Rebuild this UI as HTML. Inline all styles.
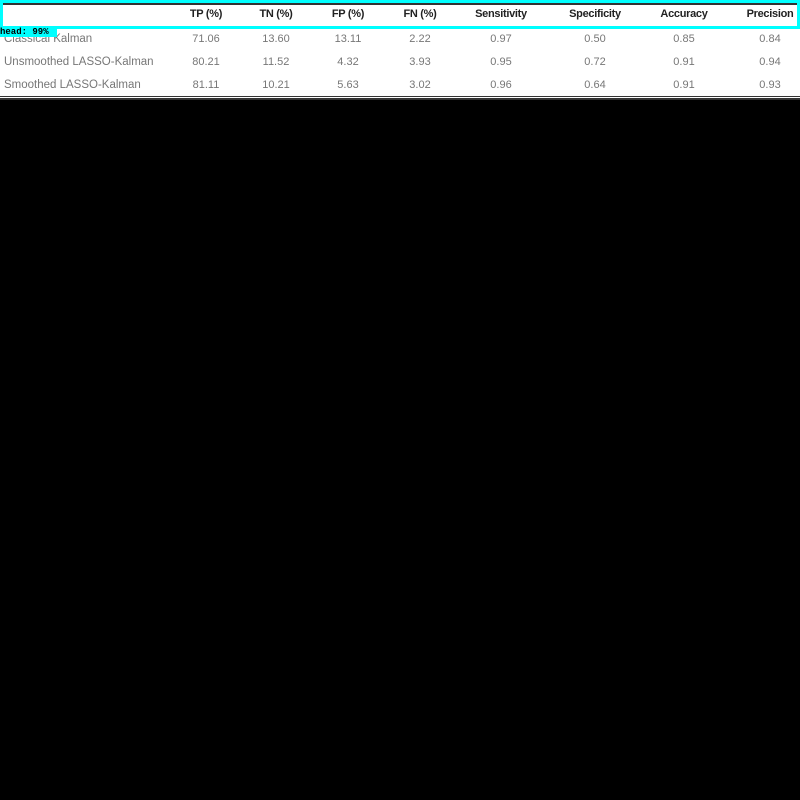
<!DOCTYPE html>
<html><head><meta charset="utf-8"><style>
body{margin:0;width:800px;height:800px;background:#000;position:relative;overflow:hidden;font-family:"Liberation Sans",sans-serif}
#tbl{position:absolute;left:0;top:0;width:800px;height:100px;background:#fff}
.c{position:absolute;font-size:11px;white-space:nowrap;transform:translate(-50%,-50%);color:#777}
.h{color:#222;font-weight:bold;letter-spacing:-0.3px}
.l{transform:translate(0,-50%);font-size:11.5px}
</style></head><body>
<div id="tbl">
<div style="position:absolute;left:0;top:3px;width:800px;height:2px;background:#333"></div>
<div style="position:absolute;left:0;top:96px;width:800px;height:1px;background:#333"></div>
<div style="position:absolute;left:0;top:98px;width:800px;height:2px;background:#333"></div>
</div>
<div id="cells"></div>
<div style="position:absolute;left:0;top:0;width:794px;height:23px;border:3px solid #00ffff"></div>
<div style="position:absolute;left:0;top:27px;width:57px;height:10px;background:#00ffff;font:bold 9px 'Liberation Mono',monospace;color:#000;line-height:10px">head: 99%</div>
<script>
const headers=["TP (%)","TN (%)","FP (%)","FN (%)","Sensitivity","Specificity","Accuracy","Precision"];
const rowsLabels=["Classical Kalman","Unsmoothed LASSO-Kalman","Smoothed LASSO-Kalman"];
const row1=["71.06","13.60","13.11","2.22","0.97","0.50","0.85","0.84"];
const row2=["80.21","11.52","4.32","3.93","0.95","0.72","0.91","0.94"];
const row3=["81.11","10.21","5.63","3.02","0.96","0.64","0.91","0.93"];
const xs=[206,276,348,420,501,595,684,770];
const ys=[14,39,62,85];
const root=document.getElementById('cells');
function add(txt,x,y,cls,name){
  const d=document.createElement('div');
  d.className='c '+cls;d.textContent=txt;
  d.style.left=x+'px';d.style.top=y+'px';
  
  
  root.appendChild(d);
}
headers.forEach((h,i)=>add(h,xs[i],ys[0],'h','column-header'));
[row1,row2,row3].forEach((r,j)=>{
  add(rowsLabels[j],4,ys[j+1],'l','row-label');
  r.forEach((v,i)=>add(v,xs[i],ys[j+1],'','table-cell'));
});
</script>
</body></html>
